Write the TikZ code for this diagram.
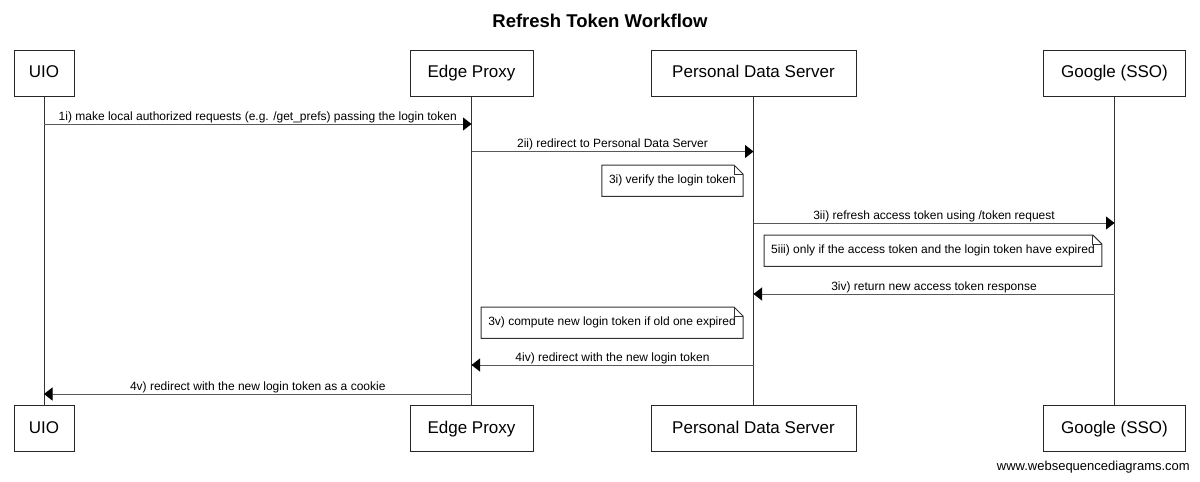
\documentclass[tikz,border=0pt]{standalone}
\usepackage{fontspec}
\setmainfont{Liberation Sans}
\usetikzlibrary{arrows.meta}

\begin{document}
\begin{tikzpicture}[x=1pt,y=-1pt,
    actor/.style={draw=black!85,fill=white,line width=1pt,minimum height=46pt,inner sep=0pt,
      text height=12.5pt,text depth=3.5pt,font=\fontsize{17}{20}\selectfont},
    msg/.style={draw=black!65,line width=1pt,-{Triangle[length=8.5pt,width=13pt,color=black]}},
    lbl/.style={font=\fontsize{12}{14}\selectfont,inner sep=1pt,text height=9pt,text depth=2.5pt,above},
    note/.style={font=\fontsize{12}{14}\selectfont,minimum height=31pt,inner xsep=7pt,inner ysep=0pt,
      text height=9pt,text depth=2.5pt}]

        \useasboundingbox (0,0) rectangle (1200,482);

        \node[font=\bfseries\fontsize{18.5}{22}\selectfont] (title) at (600,21) {Refresh Token Workflow};

        % participants, top and bottom
        \begin{scope}[every node/.style={actor}]
          \node[minimum width=60pt]  (uioT)  at (44,73)     {UIO};
          \node[minimum width=123pt] (edgeT) at (471.5,73)  {Edge Proxy};
          \node[minimum width=205pt] (pdsT)  at (753.5,73)  {Personal Data Server};
          \node[minimum width=142pt] (ssoT)  at (1114.5,73) {Google (SSO)};
          \node[minimum width=60pt]  (uioB)  at (44,428.5)     {UIO};
          \node[minimum width=123pt] (edgeB) at (471.5,428.5)  {Edge Proxy};
          \node[minimum width=205pt] (pdsB)  at (753.5,428.5)  {Personal Data Server};
          \node[minimum width=142pt] (ssoB)  at (1114.5,428.5) {Google (SSO)};
        \end{scope}

        % lifelines
        \begin{scope}[draw=black!80,line width=1pt]
          \draw (uioT)  -- (uioB);
          \draw (edgeT) -- (edgeB);
          \draw (pdsT)  -- (pdsB);
          \draw (ssoT)  -- (ssoB);
        \end{scope}

        % message ends on the lifelines
        \coordinate (m1a) at (44,124);     \coordinate (m1b) at (471.5,124);
        \coordinate (m2a) at (471.5,151.5); \coordinate (m2b) at (753.5,151.5);
        \coordinate (m3a) at (753.5,223);  \coordinate (m3b) at (1114.5,223);
        \coordinate (m4a) at (1114.5,294); \coordinate (m4b) at (753.5,294);
        \coordinate (m5a) at (753.5,365);  \coordinate (m5b) at (471.5,365);
        \coordinate (m6a) at (471.5,394);  \coordinate (m6b) at (44,394);

        \begin{scope}[every edge/.style={msg}, every node/.style={lbl}]
          \path (m1a) edge node {1i) make local authorized requests (e.g. /get\_prefs) passing the login token} (m1b);
          \path (m2a) edge node {2ii) redirect to Personal Data Server} (m2b);
          \path (m3a) edge node {3ii) refresh access token using /token request} (m3b);
          \path (m4a) edge node {3iv) return new access token response} (m4b);
          \path (m5a) edge node {4iv) redirect with the new login token} (m5b);
          \path (m6a) edge node {4v) redirect with the new login token as a cookie} (m6b);
        \end{scope}

        % notes
        \begin{scope}[every node/.style={note}]
          \node[anchor=north east] (n3i)   at (743,165) {3i) verify the login token};
          \node[anchor=north west] (n5iii) at (764,235) {5iii) only if the access token and the login token have expired};
          \node[anchor=north east] (n3v)   at (743,307) {3v) compute new login token if old one expired};
        \end{scope}

        \foreach \n in {n3i,n5iii,n3v} {
          \draw[black!80,line width=1pt,line join=miter]
            (\n.south west) -- (\n.north west) -- ([xshift=-9pt]\n.north east)
            -- ([yshift=-9pt]\n.north east) -- (\n.south east) -- cycle;
          \draw[black!80,line width=1pt]
            ([xshift=-9pt]\n.north east) |- ([yshift=-9pt]\n.north east);
        }

        \node[anchor=east,inner sep=0pt,font=\fontsize{13}{15}\selectfont] (site) at (1190,467) {www.websequencediagrams.com};

      \end{tikzpicture}
\end{document}
